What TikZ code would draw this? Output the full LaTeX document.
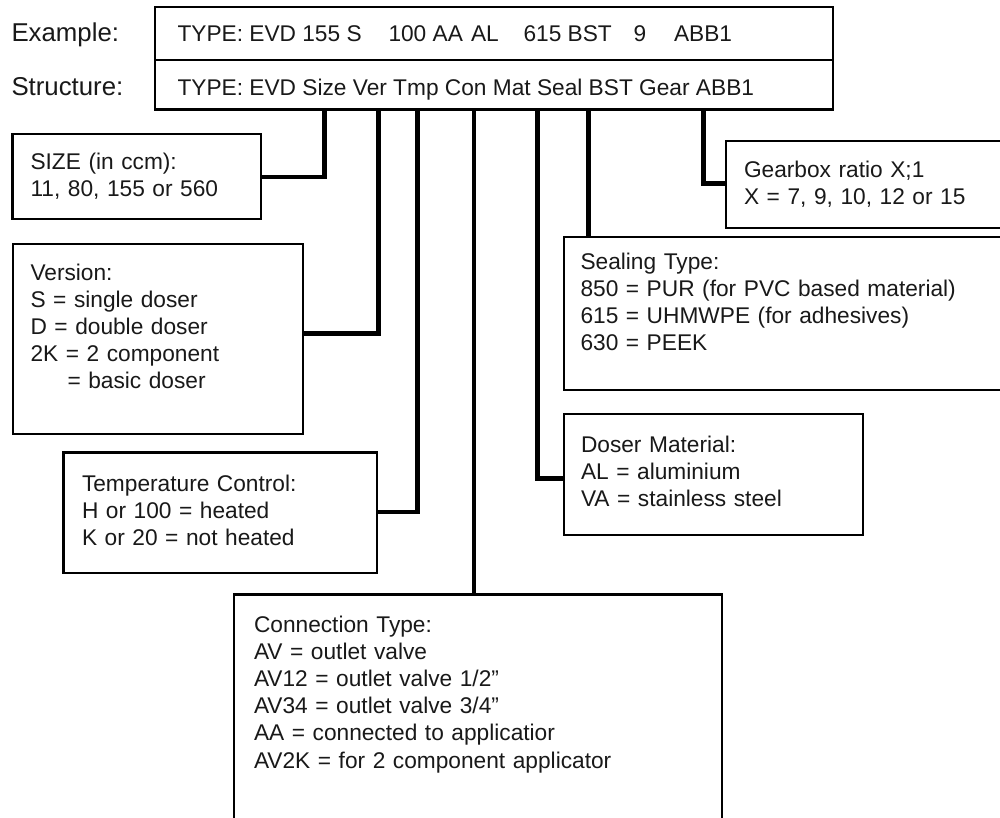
\documentclass[tikz,border=0pt]{standalone}
\usepackage{fontspec}
\setmainfont{Liberation Sans}
\begin{document}
\begin{tikzpicture}[x=1pt,y=-1pt,
  box/.style={draw=black,line width=2.3pt,inner sep=0pt,outer sep=0pt,anchor=north west},
  conn/.style={draw=black,line width=4.5pt},
  txt/.style={inner sep=0pt,outer sep=0pt,anchor=base west,align=left,text width=420pt,
    font=\fontsize{22.7}{27.2}\selectfont,text=black!90},
  lbl/.style={inner sep=0pt,outer sep=0pt,anchor=base west,font=\fontsize{25.8}{30}\selectfont,text=black!90},
  row/.style={inner sep=0pt,outer sep=0pt,anchor=base west,font=\fontsize{22.7}{27.2}\selectfont,text=black!90}]
\clip (0,0) rectangle (1000,817);
\fill[white] (0,0) rectangle (1000,817);

% header rows
\node[box,minimum width=678pt,minimum height=53pt] (example) at (155,7) {};
\node[box,minimum width=678pt,minimum height=49.5pt] (struct) at (155,60) {};
\node[lbl] (exlbl) at (11.5,41.5) {Example:};
\node[lbl] (stlbl) at (11.5,95) {Structure:};
\node[row] (ex1) at (177.5,41.5) {TYPE: EVD 155 S};
\node[row] (ex2) at (388.5,41.5) {100 AA};
\node[row] (ex3) at (471,41.5) {AL};
\node[row] (ex4) at (523.5,41.5) {615 BST};
\node[row] (ex5) at (633.5,41.5) {9};
\node[row] (ex6) at (674,41.5) {ABB1};
\node[row] (st1) at (177.5,95) {TYPE: EVD Size Ver Tmp Con Mat Seal BST Gear ABB1};

% boxes
\node[box,minimum width=248.5pt,minimum height=85pt] (size) at (12.5,134) {};
\node[box,minimum width=290.5pt,minimum height=190pt] (ver) at (12.7,244) {};
\node[box,minimum width=313.5pt,minimum height=120.5pt] (tmp) at (63.5,452.5) {};
\node[box,minimum width=488pt,minimum height=260pt] (con) at (234,594.5) {};
\node[box,minimum width=299pt,minimum height=121pt] (mat) at (564,414.3) {};
\node[box,minimum width=460pt,minimum height=153pt] (seal) at (564.3,237) {};
\node[box,minimum width=300pt,minimum height=87pt] (gear) at (726,141) {};

% texts
\node[txt] (sizet) at (30.5,169) {SIZE (in ccm):\\11, 80, 155 or 560};
\node[txt] (vert) at (30.5,280) {Version:\\S = single doser\\D = double doser\\2K = 2 component\\\hspace*{37pt}= basic doser};
\node[txt] (tmpt) at (82,491.5) {Temperature Control:\\H or 100 = heated\\K or 20 = not heated};
\node[txt] (cont) at (254,632) {Connection Type:\\AV = outlet valve\\AV12 = outlet valve 1/2”\\AV34 = outlet valve 3/4”\\AA = connected to applicatior\\AV2K = for 2 component applicator};
\node[txt] (matt) at (581,452.5) {Doser Material:\\AL = aluminium\\VA = stainless steel};
\node[txt] (sealt) at (580.5,269) {Sealing Type:\\850 = PUR (for PVC based material)\\615 = UHMWPE (for adhesives)\\630 = PEEK};
\node[txt] (geart) at (744,177) {Gearbox ratio X;1\\X = 7, 9, 10, 12 or 15};

% connector bends
\coordinate (jsize) at (324.5,177);
\coordinate (jver) at (378.5,333.5);
\coordinate (jtmp) at (417.5,512);
\coordinate (jcon) at (474,594.5);
\coordinate (jmat) at (537.5,478.3);
\coordinate (jseal) at (588.3,237);
\coordinate (jgear) at (703.3,183.5);

% connectors
\draw[conn] (jsize |- struct.south) |- (size.east |- jsize);
\draw[conn] (jver |- struct.south) |- (ver.east |- jver);
\draw[conn] (jtmp |- struct.south) |- (tmp.east |- jtmp);
\draw[conn] (jcon |- struct.south) -- (jcon |- con.north);
\draw[conn] (jmat |- struct.south) |- (mat.west |- jmat);
\draw[conn] (jseal |- struct.south) -- (jseal |- seal.north);
\draw[conn] (jgear |- struct.south) |- (gear.west |- jgear);
\end{tikzpicture}
\end{document}
